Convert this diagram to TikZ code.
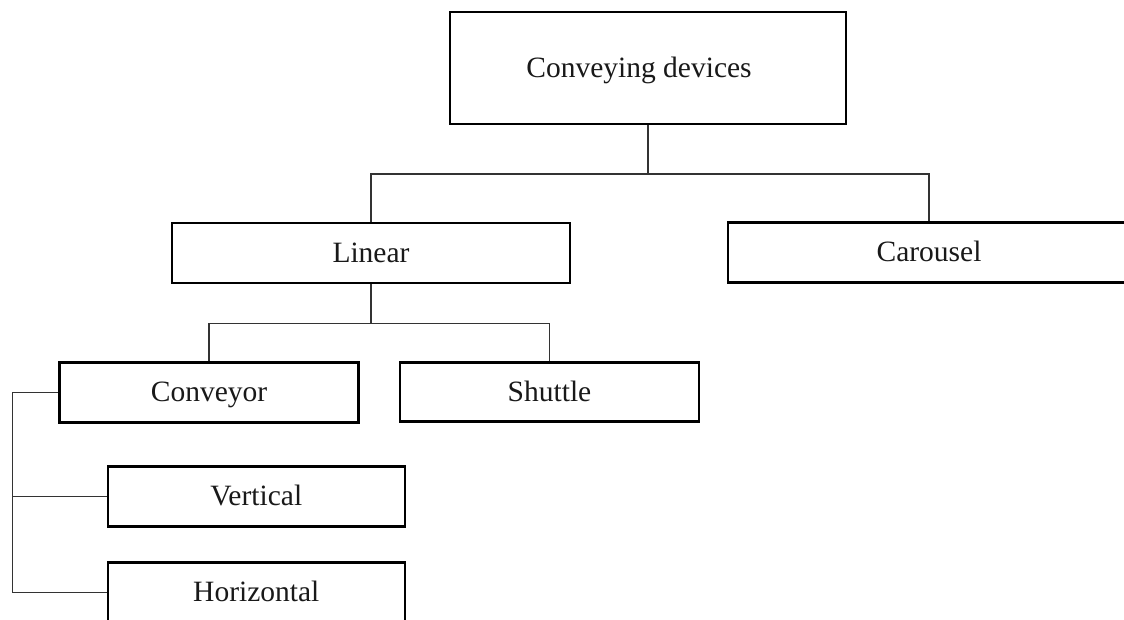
\documentclass[tikz,border=0pt]{standalone}
\usepackage{fontspec}
\setmainfont{Liberation Serif}
\begin{document}
\begin{tikzpicture}[x=1pt,y=-1pt,
  box/.style={draw=black,line width=2.6pt,rectangle,inner sep=0pt,fill=white,
    text height=21pt,text depth=3pt,
    font=\fontsize{29.5}{35}\selectfont,text=black!90},
  conn/.style={draw=black!80,line width=1.3pt}]
\useasboundingbox (0,0) rectangle (1124,619);
\node[box,minimum width=396pt,minimum height=112pt] (top) at (648,68) {Conveying devices\hspace*{18pt}};
\node[box,minimum width=398pt,minimum height=60pt] (linear) at (371,253) {Linear};
\node[box,minimum width=402pt,minimum height=60pt] (carousel) at (929,252.5) {Carousel};
\node[box,minimum width=299pt,minimum height=60pt] (conveyor) at (209,392.7) {Conveyor};
\node[box,minimum width=299pt,minimum height=59pt] (shuttle) at (549.5,392) {Shuttle};
\node[box,minimum width=297pt,minimum height=60pt] (vertical) at (256.3,496.7) {Vertical};
\node[box,minimum width=297pt,minimum height=60pt] (horizontal) at (256.3,592.5) {Horizontal};
\coordinate (bus1) at (648,174);
\coordinate (bus2) at (371,323.3);
\coordinate (rail) at (12.3,0);
\draw[conn] (top.south) -- (bus1);
\draw[conn] (linear.north) |- (bus1) -| (carousel.north);
\draw[conn] (linear.south) -- (bus2);
\draw[conn] (conveyor.north) |- (bus2) -| (shuttle.north);
\draw[conn] (conveyor.west) -| (rail |- horizontal.west) -- (horizontal.west);
\draw[conn] (vertical.west) -- (vertical.west -| rail);
\end{tikzpicture}
\end{document}
